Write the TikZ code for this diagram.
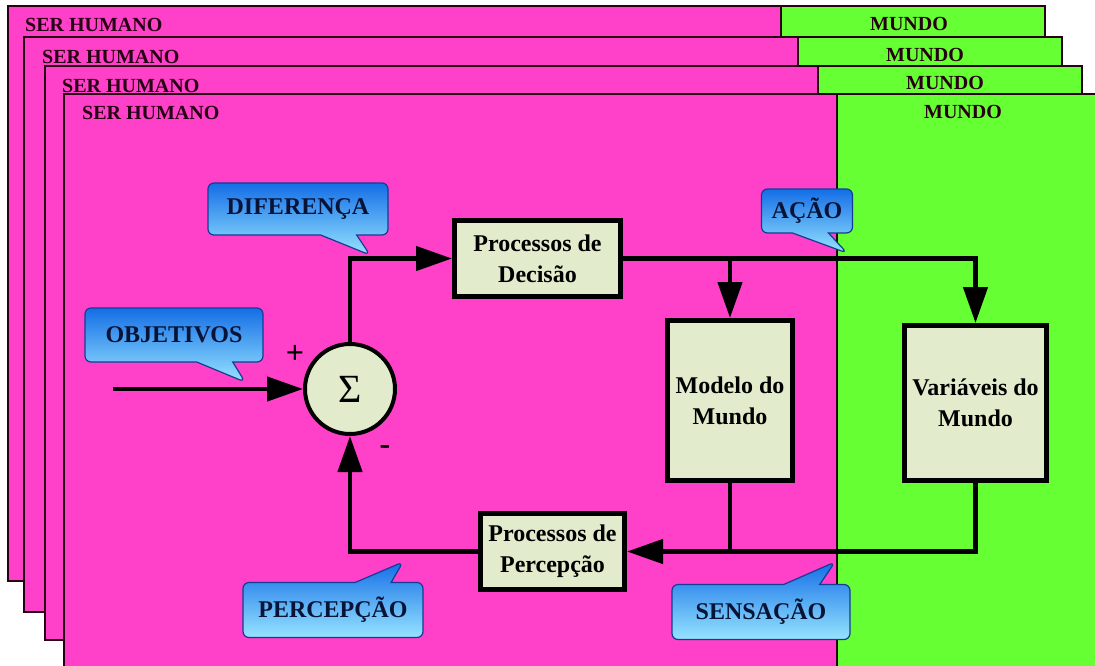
\documentclass[tikz,border=0pt]{standalone}
\usepackage{fontspec}
\setmainfont{Liberation Serif}
\usetikzlibrary{arrows.meta,shapes.callouts}
\definecolor{pinkbg}{RGB}{255,64,200}
\definecolor{greenbg}{RGB}{102,255,51}
\definecolor{boxfill}{RGB}{226,236,204}
\definecolor{calltop}{RGB}{20,110,230}
\definecolor{callbot}{RGB}{150,228,255}
\definecolor{calledge}{RGB}{20,60,150}
\definecolor{calltext}{RGB}{8,20,55}
\definecolor{framedge}{RGB}{40,0,20}
\begin{document}
\begin{tikzpicture}[x=1pt,y=-1pt,
  framelabel/.style={font=\fontsize{20}{22}\selectfont\bfseries, text=framedge, inner sep=0},
  plate/.style={draw=framedge, line width=2pt},
  blockbox/.style={draw=black, line width=5pt, fill=boxfill, font=\fontsize{24}{31}\selectfont\bfseries, align=center, inner sep=0},
  conn/.style={line width=4.5pt, draw=black},
  arr/.style={conn, -{Triangle[length=36pt,width=24pt]}},
  signlabel/.style={font=\fontsize{32}{34}\selectfont\bfseries, inner sep=0},
  bubble/.style={rectangle callout, rounded corners=6pt, draw=calledge, line width=1.2pt, top color=calltop, bottom color=callbot, text=calltext, font=\fontsize{24}{28}\selectfont\bfseries, inner sep=0, callout pointer width=36pt},
]
\clip (0,0) rectangle (1095,665);
\fill[white] (0,0) rectangle (1095,665);
% frame 1
\fill[pinkbg] (8,6) rectangle (781,581);
\fill[greenbg] (781,6) rectangle (1045,581);
\draw[plate] (8,6) rectangle (1045,581) (781,6) -- (781,581);
\node[framelabel, anchor=west] (sh1) at (25,25) {SER HUMANO};
\node[framelabel] (mu1) at (909,24) {MUNDO};
% frame 2
\fill[pinkbg] (24,37) rectangle (798,612);
\fill[greenbg] (798,37) rectangle (1062,612);
\draw[plate] (24,37) rectangle (1062,612) (798,37) -- (798,612);
\node[framelabel, anchor=west] (sh2) at (42,57) {SER HUMANO};
\node[framelabel] (mu2) at (925,55) {MUNDO};
% frame 3
\fill[pinkbg] (45,66) rectangle (818,640);
\fill[greenbg] (818,66) rectangle (1082,640);
\draw[plate] (45,66) rectangle (1082,640) (818,66) -- (818,640);
\node[framelabel, anchor=west] (sh3) at (62,86) {SER HUMANO};
\node[framelabel] (mu3) at (945,83) {MUNDO};
% frame 4
\fill[pinkbg] (64,94) rectangle (837,680);
\fill[greenbg] (837,94) rectangle (1110,680);
\draw[plate] (64,94) rectangle (1110,680) (837,94) -- (837,680);
\node[framelabel, anchor=west] (sh4) at (82,113) {SER HUMANO};
\node[framelabel] (mu4) at (963,112) {MUNDO};

% blocks
\node[circle, draw=black, line width=4pt, fill=boxfill, minimum size=90pt, inner sep=0, font=\fontsize{40}{42}\selectfont] (sum) at (350,389) {Σ};
\node[signlabel] (plus) at (295,354) {+};
\node[signlabel] (minus) at (385,450) {-};
\node[blockbox, minimum width=166pt, minimum height=76pt] (dec) at (537.5,258.5) {Processos de\\Decisão};
\node[blockbox, minimum width=125pt, minimum height=160pt] (modelo) at (730,400.5) {Modelo do\\Mundo};
\node[blockbox, minimum width=142pt, minimum height=155pt] (var) at (975.5,403) {Variáveis do\\Mundo};
\node[blockbox, minimum width=144pt, minimum height=76pt] (perc) at (552.5,551.5) {Processos de\\Percepção};

% connectors
\coordinate (inp) at (113,389);
\draw[arr] (inp) -- (sum.west);
\draw[arr] (sum.north) |- (dec.west);
\draw[arr] (dec.east) -| (var.north);
\draw[arr] (dec.east -| modelo.north) -- (modelo.north);
\draw[arr] (var.south) |- (perc.east);
\draw[conn] (modelo.south) -- (modelo.south |- perc.east);
\draw[arr] (perc.west) -| (sum.south);

% callouts
\coordinate (tipObj) at (245,382);
\coordinate (tipDif) at (370,255);
\coordinate (tipAcao) at (847,253);
\coordinate (tipPerc) at (403,562);
\coordinate (tipSens) at (835,562);
\node[bubble, minimum width=178pt, minimum height=54pt, callout absolute pointer={(tipObj)}] (objetivos) at (174,335) {OBJETIVOS};
\node[bubble, minimum width=180pt, minimum height=52pt, callout absolute pointer={(tipDif)}] (diferenca) at (298,209) {DIFERENÇA};
\node[bubble, minimum width=91pt, minimum height=44pt, callout absolute pointer={(tipAcao)}] (acao) at (807,211) {AÇÃO};
\node[bubble, minimum width=180pt, minimum height=55pt, callout absolute pointer={(tipPerc)}] (percepcao) at (333,610) {PERCEPÇÃO};
\node[bubble, minimum width=178pt, minimum height=55pt, callout absolute pointer={(tipSens)}] (sensacao) at (761,612) {SENSAÇÃO};
\end{tikzpicture}
\end{document}
